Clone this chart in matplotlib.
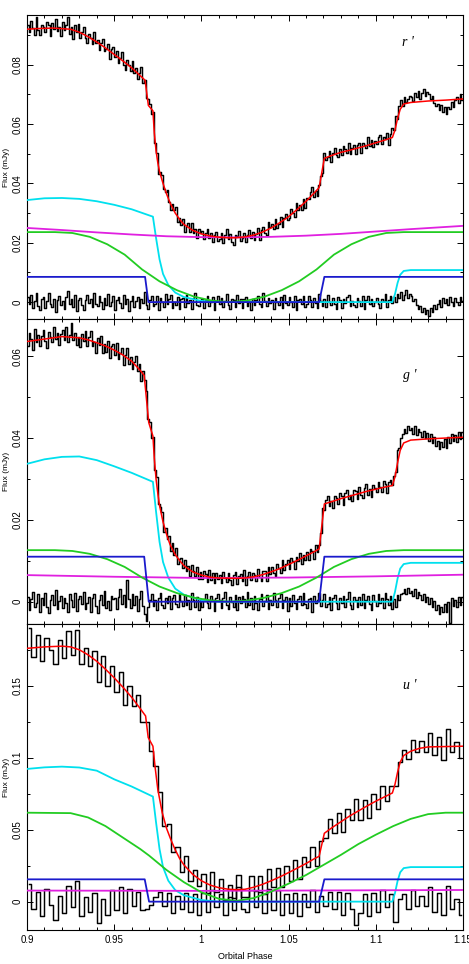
import numpy as np
import matplotlib
matplotlib.use('Agg')
import matplotlib.pyplot as plt
from matplotlib.ticker import MultipleLocator, FuncFormatter

plt.rcParams['font.family'] = ['Liberation Sans', 'DejaVu Sans']

# ---------------- values (flux in units of 1e-3 mJy) ----------------
# r' band observed light curve (250 bins, width 0.001 in phase)
r_flux = [
    93.5, 91.2, 94.7, 92.4, 90.2, 96.0, 91.8, 90.0, 93.4, 92.9,
    90.9, 94.5, 93.3, 89.6, 94.1, 92.2, 95.5, 91.3, 92.8, 89.8,
    94.3, 91.6, 93.4, 96.1, 90.4, 92.6, 88.7, 93.4, 91.0, 93.8,
    89.1, 91.1, 92.7, 89.1, 87.3, 90.5, 89.1, 87.0, 91.2, 87.2,
    88.5, 85.0, 87.4, 88.6, 84.7, 85.4, 86.9, 82.1, 85.2, 86.0,
    82.8, 84.5, 80.6, 82.4, 84.4, 80.1, 78.4, 81.6, 80.0, 78.0,
    81.3, 77.4, 78.8, 75.2, 77.2, 79.3, 74.0, 74.9, 68.8, 68.5,
    66.7, 63.4, 64.2, 53.7, 50.2, 43.3, 43.9, 43.0, 38.0, 37.0,
    37.9, 33.8, 31.0, 33.0, 30.9, 32.1, 27.0, 28.4, 26.1, 28.1,
    23.7, 25.8, 26.8, 23.7, 26.8, 23.4, 24.6, 21.6, 24.6, 23.2,
    24.1, 21.3, 23.2, 24.6, 21.6, 23.3, 20.1, 22.6, 23.8, 20.7,
    21.4, 23.2, 19.9, 22.6, 24.5, 21.2, 22.8, 20.3, 19.1, 22.6,
    22.3, 24.1, 20.6, 21.7, 23.4, 20.3, 22.5, 24.4, 21.5, 23.8,
    21.1, 23.1, 25.0, 20.9, 24.2, 25.2, 23.4, 22.5, 27.1, 25.2,
    26.3, 24.7, 27.9, 25.0, 26.3, 28.7, 25.2, 28.4, 29.6, 27.6,
    28.4, 31.4, 30.2, 28.7, 33.4, 31.2, 32.9, 31.2, 34.8, 31.6,
    35.2, 34.6, 37.0, 38.7, 35.6, 37.6, 35.9, 39.6, 42.5, 43.6,
    50.3, 47.8, 48.9, 50.9, 47.2, 50.4, 51.8, 49.5, 49.0, 51.5,
    49.5, 52.5, 51.5, 50.3, 53.5, 49.8, 51.9, 53.1, 49.9, 52.9,
    53.6, 50.2, 53.5, 53.0, 51.9, 55.5, 52.6, 54.6, 52.2, 54.4,
    53.2, 55.6, 56.5, 53.3, 55.7, 54.9, 56.9, 53.0, 56.6, 58.8,
    57.9, 62.9, 61.7, 66.1, 68.2, 66.0, 69.1, 67.6, 68.5, 69.5,
    69.3, 67.9, 70.5, 69.1, 71.3, 68.6, 70.4, 72.0, 69.6, 70.9,
    70.1, 68.5, 69.4, 67.2, 66.0, 66.9, 64.7, 66.4, 64.2, 65.7,
    63.5, 65.9, 65.2, 67.3, 65.7, 68.0, 69.2, 67.1, 70.0, 68.3,
]
r_resid = [
    1.8, -0.7, 2.4, -1.9, 0.5, 3.2, -1.2, -2.8, 0.9, 1.6,
    -2.1, 0.4, 2.9, -0.6, -1.5, 1.2, -3.4, 0.8, 2.0, -0.9,
    0.3, -2.4, 1.6, 3.7, -0.8, 0.9, -1.7, 2.3, -2.9, 0.6,
    1.4, -1.1, -2.6, 0.7, 2.5, -0.3, 1.1, -1.8, 3.0, -0.5,
    -1.3, 2.0, 0.2, -2.2, 1.5, -0.9, 2.7, -1.4, 0.1, 1.9,
    -2.5, 0.8, 1.7, -0.4, -1.9, 2.4, -0.6, 1.0, -3.1, 0.5,
    2.2, -1.5, 0.4, 1.8, -2.0, 0.9, -0.2, 3.5, -1.0, -2.3,
    0.7, 1.9, -1.2, -0.5, 2.1, -2.7, 1.3, 0.1, -1.6, 2.6,
    -0.8, 1.0, 2.3, -1.9, 0.2, -1.1, 1.7, -2.4, 0.9, 1.4,
    -1.7, 2.5, -0.4, 0.6, -2.2, 1.5, 3.1, -0.9, -1.4, 0.3,
    1.1, -2.0, 0.8, 2.2, -1.3, -0.1, 1.6, -2.5, 0.5, 2.0,
    -0.6, 1.3, -1.8, 0.4, 2.6, -1.0, -2.3, 1.2, 0.7, -1.5,
    2.4, -0.3, 1.0, -2.1, 0.9, 1.7, -1.4, 0.2, -2.8, 1.1,
    -1.0, 0.6, 2.0, -0.7, -1.6, 2.9, 0.3, -1.2, 1.5, -0.4,
    0.8, -2.3, 1.4, 0.1, -0.9, 1.8, -1.9, 2.4, -0.2, -1.1,
    1.6, 0.2, -1.5, 2.2, -2.6, 0.7, 1.1, -0.8, 2.0, -1.7,
    -0.5, 1.9, 0.6, -1.8, 1.3, -0.4, -2.1, 2.7, 0.4, -1.2,
    1.2, -1.6, 2.3, 0.0, -1.1, 1.5, -0.7, -2.4, 1.8, 0.6,
    -2.0, 0.9, -0.3, 1.7, 2.4, -1.3, 0.5, -0.9, -1.8, 1.3,
    0.4, -1.2, 1.9, -2.2, 0.8, 2.1, -0.6, 1.0, -1.4, 0.2,
    1.5, -0.8, -2.0, 1.1, 0.3, 2.6, -1.5, 0.7, 1.9, -0.3,
    1.7, 0.2, 2.7, 1.3, 3.4, 0.6, 2.5, 4.0, 1.4, 2.8,
    2.0, 0.3, 1.2, -1.0, -2.2, -1.3, -3.5, -1.9, -4.1, -2.6,
    -4.8, -2.0, -3.2, -1.1, -2.4, -0.6, 0.6, -1.5, 1.3, -0.4,
    0.9, -1.1, 1.8, 0.1, -1.4, 1.4, 0.2, -0.9, 1.7, 0.4,
]
r_model_ph = [0.900, 0.905, 0.915, 0.925, 0.930, 0.935, 0.940, 0.945, 0.950, 0.955,
              0.960, 0.965, 0.9677, 0.9696, 0.9722, 0.973, 0.974, 0.975, 0.976, 0.978,
              0.980, 0.982, 0.985, 0.988, 0.990, 0.995, 1.000, 1.005, 1.010, 1.015,
              1.020, 1.025, 1.030, 1.035, 1.040, 1.045, 1.050, 1.055, 1.060, 1.065,
              1.0675, 1.0705, 1.075, 1.080, 1.085, 1.090, 1.095, 1.100, 1.105, 1.1095,
              1.111, 1.1125, 1.114, 1.116, 1.120, 1.130, 1.140, 1.150]
r_model = [92.0, 92.2, 92.4, 92.0, 91.0, 89.5, 87.7, 85.7, 83.5, 81.3,
           79.0, 76.3, 74.8, 66.3, 64.5, 57.0, 51.0, 47.0, 44.0, 40.0,
           36.5, 33.5, 30.0, 27.5, 26.2, 24.2, 23.0, 22.3, 21.9, 21.7,
           21.7, 22.0, 22.6, 23.6, 25.0, 26.8, 28.8, 31.3, 34.0, 37.0,
           38.6, 48.5, 49.5, 50.5, 51.2, 52.0, 52.8, 53.7, 54.6, 55.5,
           58.0, 62.0, 65.0, 66.8, 67.3, 67.8, 68.1, 68.5]
# components r'
r_wd_ph = [0.900, 0.9677, 0.9696, 1.0675, 1.0705, 1.150]
r_wd = [8.5, 8.5, 0.0, 0.0, 8.5, 8.5]
r_spot_ph = [0.900, 0.910, 0.920, 0.930, 0.940, 0.950, 0.960, 0.9722, 0.974, 0.976,
             0.978, 0.981, 0.985, 0.990, 1.000, 1.010, 1.1095, 1.111, 1.1125, 1.114,
             1.116, 1.120, 1.150]
r_spot = [34.4, 35.0, 35.1, 34.8, 34.0, 32.8, 31.3, 28.8, 21.6, 14.4,
          9.5, 5.8, 3.2, 1.7, 0.4, 0.0, 0.0, 2.7, 6.5, 9.2,
          10.5, 10.8, 10.8]
disc_ph = [0.900, 0.916, 0.926, 0.936, 0.946, 0.956, 0.961, 0.966, 0.976, 0.986,
           0.996, 1.006, 1.016, 1.026, 1.036, 1.046, 1.056, 1.066, 1.071, 1.076,
           1.086, 1.096, 1.106, 1.116, 1.150]
r_disc = [23.6, 23.6, 23.3, 22.0, 19.5, 16.0, 13.5, 11.0, 7.0, 4.0,
          1.8, 0.5, 0.0, 0.5, 1.8, 4.0, 7.0, 11.0, 13.5, 16.0,
          19.5, 22.0, 23.3, 23.6, 23.6]
r_sec_ph = [0.90, 0.92, 0.94, 0.96, 0.98, 1.00, 1.02, 1.04, 1.06, 1.08, 1.10, 1.12, 1.15]
r_sec = [25.0, 24.3, 23.5, 22.8, 22.2, 21.9, 21.8, 22.0, 22.4, 23.0, 23.8, 24.6, 25.7]

# g' band (250 bins, width 0.001)
g_flux = [
    62.4, 65.6, 64.1, 61.5, 66.7, 63.4, 65.3, 62.4, 64.9, 66.4,
    63.7, 61.9, 65.9, 64.7, 63.4, 67.2, 64.3, 65.7, 62.7, 65.5,
    66.4, 63.9, 67.1, 63.4, 65.2, 68.1, 63.9, 65.8, 62.7, 64.8,
    62.2, 65.4, 63.8, 66.1, 62.4, 64.8, 66.2, 62.6, 63.5, 60.8,
    64.5, 62.8, 64.9, 60.9, 63.1, 61.1, 63.8, 59.5, 62.6, 62.9,
    60.3, 63.3, 59.3, 60.8, 62.1, 57.9, 60.4, 62.0, 58.2, 59.9,
    56.8, 58.7, 60.1, 56.5, 58.0, 54.0, 56.3, 54.2, 51.6, 44.7,
    43.9, 40.1, 40.3, 32.1, 30.4, 23.9, 23.1, 21.9, 17.1, 18.1,
    15.3, 16.0, 12.4, 14.3, 11.4, 13.1, 9.2, 10.4, 10.7, 8.3,
    10.2, 7.5, 8.7, 6.3, 8.9, 7.6, 6.3, 8.6, 5.5, 7.2,
    5.6, 7.5, 6.7, 4.8, 7.7, 5.4, 6.9, 4.6, 7.1, 5.6,
    6.5, 4.6, 7.3, 5.8, 4.7, 7.0, 5.2, 4.2, 6.5, 7.3,
    4.4, 6.2, 6.8, 5.0, 7.7, 4.2, 6.2, 7.3, 5.3, 6.9,
    6.5, 5.1, 8.0, 6.1, 5.0, 7.6, 7.4, 5.1, 8.4, 6.8,
    8.6, 6.9, 6.3, 9.3, 8.2, 7.0, 10.2, 7.7, 9.3, 10.1,
    8.1, 10.8, 9.9, 8.1, 11.0, 10.0, 12.0, 9.3, 11.5, 10.2,
    12.2, 10.2, 12.9, 12.3, 10.5, 13.9, 12.1, 13.9, 16.7, 22.9,
    22.3, 24.8, 25.8, 23.3, 24.7, 22.8, 25.9, 25.4, 23.9, 26.5,
    25.9, 23.7, 26.5, 27.4, 25.2, 26.1, 24.5, 27.4, 27.1, 25.2,
    28.0, 26.2, 25.4, 27.8, 28.7, 26.0, 27.6, 25.7, 28.5, 27.8,
    26.8, 29.3, 28.0, 26.7, 29.4, 28.7, 26.5, 29.2, 29.7, 28.5,
    30.8, 31.6, 37.0, 37.6, 40.1, 41.1, 42.3, 41.3, 43.0, 41.9,
    42.4, 41.1, 42.9, 40.8, 42.3, 41.5, 40.3, 41.8, 40.0, 41.2,
    39.4, 40.9, 38.7, 40.2, 38.0, 39.3, 37.3, 39.0, 37.8, 39.7,
    37.6, 40.3, 38.8, 41.1, 39.3, 40.8, 39.1, 41.5, 39.7, 41.6,
]
g_resid = [
    1.1, -2.0, 0.6, 2.4, -1.3, -0.2, 1.9, -2.6, 0.8, -0.9,
    2.2, -1.4, -2.8, 0.5, 1.6, -0.7, 2.9, -1.9, 0.2, 1.3,
    -1.6, 0.9, -0.4, -2.5, 1.8, 0.3, -1.2, 2.1, -2.3, 0.7,
    1.5, -0.6, 2.3, -1.8, -0.3, 1.2, -2.4, 0.8, 1.9, -1.1,
    -2.7, 0.4, 1.6, -0.9, 2.5, -1.5, 0.1, -2.0, 1.3, 0.6,
    0.9, -1.8, 1.2, 3.0, -0.5, 1.7, -1.3, 5.4, 0.7, -1.6,
    2.0, -0.8, 1.4, -2.2, 0.6, 2.6, -1.0, -2.9, -4.6, -1.2,
    0.5, 1.9, -1.1, 0.3, -2.0, 1.0, 2.2, -0.7, -1.5, 0.9,
    -0.4, 1.3, -1.9, 0.8, 1.7, -0.6, -1.4, 2.0, 0.2, -1.0,
    1.6, -0.9, 0.4, -1.7, 2.1, 0.5, -1.2, 1.1, -2.1, 0.7,
    -1.2, 0.6, 1.8, -0.4, -1.6, 1.4, 0.3, -2.2, 1.0, 1.9,
    0.4, -1.5, 0.9, 2.3, -0.8, -1.9, 1.2, 0.0, -1.3, 1.6,
    -2.0, 1.1, -0.3, 1.5, 0.6, -1.2, 2.4, -0.9, 0.8, -1.7,
    1.3, -0.4, -2.1, 0.7, 1.9, -1.0, 0.2, 1.6, -1.8, 0.5,
    -0.7, 2.2, 0.4, -1.4, 0.9, 2.0, -1.6, 0.3, 1.2, -2.3,
    0.8, -1.1, 1.7, -0.2, -1.9, 0.6, 1.4, -0.8, 2.1, -0.5,
    -1.5, 0.7, 1.0, -2.4, 1.3, -0.3, 0.5, 2.2, -1.1, 0.4,
    1.9, -1.3, -0.6, 1.2, -2.0, 0.9, 1.6, -0.4, -1.7, 1.0,
    -0.3, 1.5, -1.4, 0.6, 2.3, -0.9, -1.8, 1.1, 0.4, -1.2,
    1.2, -0.7, 2.0, -1.6, 0.3, 1.3, -0.5, -2.1, 1.7, 0.1,
    -1.0, 1.8, -0.2, 0.9, -1.5, 2.1, 0.6, -0.8, 1.4, -1.9,
    0.6, -1.4, 1.7, 0.5, 1.8, 2.2, 3.1, 1.9, 3.4, 2.2,
    2.7, 1.3, 3.1, 1.0, 2.4, 1.6, 0.4, 1.9, 0.0, 1.2,
    -0.6, 0.9, -1.4, 0.1, -2.1, -0.8, -2.9, -1.2, -2.4, -0.5,
    -2.6, 0.0, -5.2, 0.8, -1.0, 0.5, -1.3, 1.1, -0.7, 1.2,
]
g_model_ph = [0.900, 0.910, 0.920, 0.930, 0.935, 0.940, 0.945, 0.950, 0.955, 0.960,
              0.965, 0.9672, 0.9698, 0.9722, 0.973, 0.974, 0.975, 0.976, 0.978, 0.980,
              0.982, 0.985, 0.988, 0.990, 0.995, 1.000, 1.005, 1.010, 1.020, 1.025,
              1.030, 1.035, 1.040, 1.045, 1.050, 1.055, 1.060, 1.065, 1.0675, 1.0705,
              1.075, 1.080, 1.085, 1.090, 1.095, 1.100, 1.105, 1.1095, 1.111, 1.1125,
              1.114, 1.116, 1.120, 1.130, 1.150]
g_model = [63.6, 64.2, 64.8, 64.5, 64.0, 63.3, 62.5, 61.5, 60.3, 58.8,
           56.5, 55.3, 43.8, 40.5, 35.0, 30.0, 26.5, 23.5, 19.5, 16.5,
           14.0, 11.5, 9.8, 8.8, 7.3, 6.5, 6.0, 5.8, 5.7, 5.8,
           6.1, 6.6, 7.3, 8.1, 9.1, 10.1, 11.2, 12.3, 12.9, 23.9,
           24.5, 25.2, 25.8, 26.4, 27.0, 27.5, 28.0, 28.4, 30.5, 34.0,
           37.0, 38.8, 39.5, 39.8, 40.2]
g_wd_ph = [0.900, 0.9672, 0.9698, 1.0675, 1.0705, 1.150]
g_wd = [11.0, 11.0, 0.0, 0.0, 11.0, 11.0]
g_spot_ph = r_spot_ph
g_spot = [33.7, 34.8, 35.4, 35.5, 34.6, 33.1, 31.5, 29.3, 22.0, 14.6,
          9.7, 5.9, 3.2, 1.7, 0.4, 0.0, 0.0, 2.4, 5.7, 8.1,
          9.2, 9.5, 9.5]
g_disc = [12.6, 12.6, 12.4, 11.7, 10.4, 8.5, 7.2, 5.9, 3.7, 2.1,
          0.96, 0.27, 0.0, 0.27, 0.96, 2.1, 3.7, 5.9, 7.2, 8.5,
          10.4, 11.7, 12.4, 12.6, 12.6]
g_sec_ph = [0.90, 0.95, 1.00, 1.05, 1.10, 1.15]
g_sec = [6.5, 6.1, 5.8, 5.9, 6.2, 6.6]

# u' band (100 bins, width 0.0025 in phase)
u_flux = [
    190, 170, 185, 167, 183, 175, 165, 182, 169, 188,
    171.5, 188.5, 165.1, 176.3, 163.4, 174.1, 152.6, 170.8, 150.0, 164.0,
    146, 159.6, 136.3, 149.8, 136.1, 143.8, 124.9, 124.5, 104.5, 94,
    76, 52.5, 54, 34.5, 38, 20.5, 31.9, 14.6, 21.9, 10.6,
    19.2, 5.9, 20.7, 6.7, 15.9, 1.2, 11.8, 2.5, 18.3, 3.4,
    2.9, 17.6, 7.5, 17.5, 5.6, 22.9, 10.2, 23.6, 10.1, 24.7,
    14.3, 28.9, 15.6, 31.2, 24.2, 37.9, 25.0, 42, 44, 57.6,
    47.5, 61.5, 48.5, 64.5, 56.5, 71.1, 56.9, 70.6, 58.3, 75.0,
    64.6, 80.1, 69.6, 80.0, 80, 97, 105.5, 99, 112.5, 103.7,
    111.6, 104.1, 117.5, 101.6, 114.6, 98.7, 119.8, 103.8, 110.9, 100.0,
]
u_resid = [
    12, -5, 7, -10, 9, -2, -13, 4, -8, 11,
    -4, 14, -10, 3, -7, 6, -15, 2, -9, 8,
    -6, 10, -8, 9, -3, 7, -6, -5, -2, 3,
    7, -3, 6, -8, 4, -5, 6, -7, 5, -9,
    6, -7, 8, -4, 5, -9, 3, -6, 10, -5,
    -7, 8, -4, 7, -8, 9, -6, 8, -9, 5,
    -8, 6, -10, 5, -4, 8, -7, 4, -3, 7,
    -5, 7, -9, 6, -5, -16, -8, 5, -10, 6,
    -7, 8, -4, 5, -14, 2, 5, -5, 8, -3,
    4, -3, 10, -7, 6, -9, 11, -5, 2, -9,
]
u_model_ph = [0.900, 0.910, 0.920, 0.925, 0.930, 0.935, 0.940, 0.945, 0.950, 0.955,
              0.960, 0.965, 0.968, 0.9695, 0.9722, 0.9735, 0.975, 0.9775, 0.980, 0.9825,
              0.985, 0.9875, 0.990, 0.995, 1.000, 1.005, 1.010, 1.015, 1.020, 1.025,
              1.030, 1.035, 1.040, 1.045, 1.050, 1.055, 1.060, 1.065, 1.0675, 1.0705,
              1.075, 1.080, 1.085, 1.090, 1.095, 1.100, 1.105, 1.1095, 1.111, 1.1125,
              1.114, 1.116, 1.120, 1.125, 1.130, 1.150]
u_model = [176.0, 177.0, 177.5, 177.0, 175.0, 171.5, 167.0, 161.5, 155.5, 149.0,
           142.0, 134.0, 129.0, 114.0, 108.0, 93, 78, 62, 51, 43,
           36, 30, 25.5, 19, 14.5, 11.5, 9.7, 8.7, 8.3, 8.6,
           10.0, 12.0, 14.5, 17.2, 20.2, 23.3, 26.5, 30.0, 31.5, 47.5,
           51.5, 55.5, 59.5, 63.0, 66.5, 69.8, 72.8, 75.5, 81.5, 90,
           97, 101.5, 104.5, 106.5, 107.5, 108.0]
u_wd_ph = [0.900, 0.9675, 0.9700, 1.0675, 1.0705, 1.150]
u_wd = [15.5, 15.5, 0.0, 0.0, 15.5, 15.5]
u_spot_ph = r_spot_ph
u_spot = [92.2, 93.3, 93.8, 93.2, 91.0, 85.0, 80.0, 73.0, 55.0, 36.5,
          24.0, 14.6, 8.0, 4.4, 1.1, 0.0, 0.0, 6.0, 14.4, 20.4,
          23.3, 24.0, 24.0]
u_disc_ph = [0.900, 0.925, 0.935, 0.945, 0.955, 0.965, 0.970, 0.975, 0.980, 0.990,
             1.000, 1.010, 1.020, 1.030, 1.040, 1.050, 1.060, 1.070, 1.080, 1.090,
             1.100, 1.110, 1.120, 1.130, 1.140, 1.150]
u_disc = [61.8, 61.5, 58.5, 52.5, 44.5, 36.5, 32.0, 27.0, 22.0, 13.5,
          6.5, 2.0, 0.5, 2.5, 7.0, 12.5, 18.5, 25.5, 32.5, 40.0,
          46.5, 52.5, 57.5, 60.8, 61.8, 61.8]
u_sec_ph = [0.90, 1.00, 1.15]
u_sec = [7.7, 7.5, 8.1]

r_phase = 0.9005 + 0.001 * np.arange(len(r_flux))
g_phase = 0.9005 + 0.001 * np.arange(len(g_flux))
u_phase = 0.90125 + 0.0025 * np.arange(len(u_flux))

# ---------------- figure ----------------
W, H = 469, 964
fig = plt.figure(figsize=(W / 100, H / 100), dpi=100)

C_CYAN = '#00e0ee'
C_GREEN = '#22cc22'
C_BLUE = '#1a1acc'
C_MAG = '#e020e0'
C_RED = '#ff0000'


def make_axes(top_px, bot_px):
    return fig.add_axes([27 / W, 1 - bot_px / H, 436 / W, (bot_px - top_px) / H])


fmt = FuncFormatter(lambda v, p: '%g' % round(v / 1000.0, 4))


def draw(ax, ph, flux, res, mph, model, comps, ylim, major, minor, label, lpos, bottom):
    ax.plot(ph, flux, drawstyle='steps-mid', color='k', lw=1.05, zorder=2)
    ax.plot(ph, res, drawstyle='steps-mid', color='k', lw=1.05, zorder=2)
    for x, y, c in comps:
        ax.plot(x, y, color=c, lw=1.3, zorder=3)
    ax.plot(mph, model, color=C_RED, lw=1.1, zorder=4)
    ax.set_xlim(0.9, 1.15)
    ax.set_ylim(*ylim)
    ax.xaxis.set_major_locator(MultipleLocator(0.05))
    ax.xaxis.set_minor_locator(MultipleLocator(0.01))
    ax.yaxis.set_major_locator(MultipleLocator(major))
    ax.yaxis.set_minor_locator(MultipleLocator(minor))
    ax.yaxis.set_major_formatter(fmt)
    ax.xaxis.set_major_formatter(FuncFormatter(lambda v, p: '%g' % round(v, 3)))
    ax.tick_params(which='both', direction='in', top=True, right=True,
                   labelsize=7, width=0.7)
    ax.tick_params(which='major', length=4)
    ax.tick_params(which='minor', length=2)
    ax.tick_params(axis='y', labelrotation=90, pad=3)
    for lab in ax.get_yticklabels():
        lab.set_va('center')
    if not bottom:
        ax.tick_params(labelbottom=False)
    for s in ax.spines.values():
        s.set_linewidth(0.8)
    ax.set_ylabel('Flux (mJy)', fontsize=6, labelpad=2)
    ax.text(lpos[0], lpos[1], label, transform=ax.transAxes, fontsize=10,
            family=['Liberation Serif', 'DejaVu Serif'], style='italic',
            ha='center', va='center')


ax1 = make_axes(15, 319)
draw(ax1, r_phase, r_flux, r_resid, r_model_ph, r_model,
     [(r_spot_ph, r_spot, C_CYAN), (r_sec_ph, r_sec, C_MAG),
      (disc_ph, r_disc, C_GREEN), (r_wd_ph, r_wd, C_BLUE)],
     (-5.7, 96.8), 20, 10, "r '", (0.873, 0.91), False)

ax2 = make_axes(319, 624)
draw(ax2, g_phase, g_flux, g_resid, g_model_ph, g_model,
     [(g_spot_ph, g_spot, C_CYAN), (g_sec_ph, g_sec, C_MAG),
      (disc_ph, g_disc, C_GREEN), (g_wd_ph, g_wd, C_BLUE)],
     (-5.45, 69.1), 20, 10, "g '", (0.878, 0.816), False)

ax3 = make_axes(624, 930)
draw(ax3, u_phase, u_flux, u_resid, u_model_ph, u_model,
     [(u_spot_ph, u_spot, C_CYAN), (u_sec_ph, u_sec, C_MAG),
      (u_disc_ph, u_disc, C_GREEN), (u_wd_ph, u_wd, C_BLUE)],
     (-19.7, 192.9), 50, 25, "u '", (0.878, 0.80), True)
ax3.set_xlabel('Orbital Phase', fontsize=6.5, labelpad=5)

fig.savefig('out.png', dpi=100)
